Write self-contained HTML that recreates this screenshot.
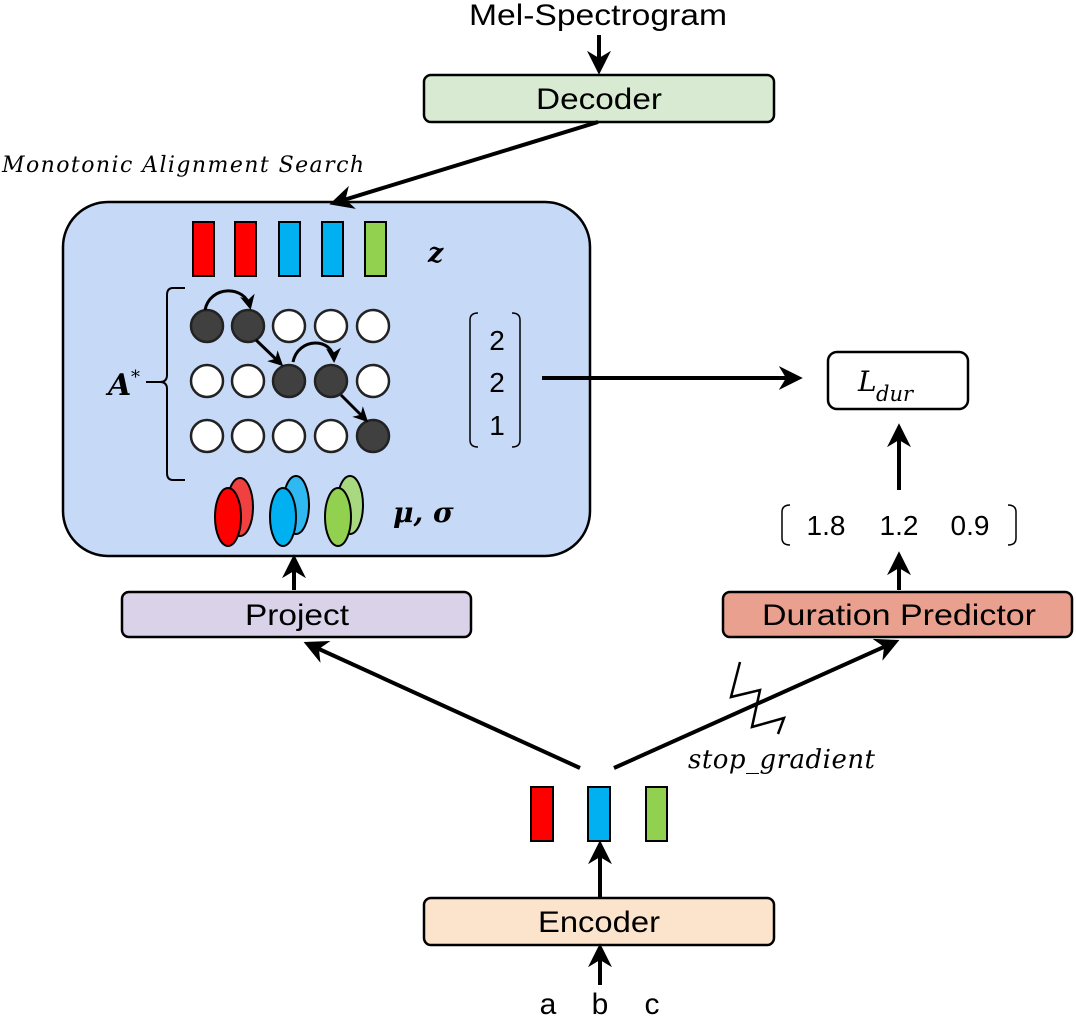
<!DOCTYPE html>
<html><head><style>
html,body{margin:0;padding:0;background:#fff;width:1076px;height:1017px;overflow:hidden}
svg{display:block}
.s{font-family:"Liberation Sans","DejaVu Sans",sans-serif}
.m{font-family:"DejaVu Serif","Liberation Serif",serif}
</style></head><body>
<svg width="1076" height="1017" viewBox="0 0 1076 1017" xmlns="http://www.w3.org/2000/svg">
<defs>
<marker id="ah" viewBox="0 0 10 10" refX="8" refY="5" markerWidth="6" markerHeight="6" orient="auto-start-reverse" markerUnits="strokeWidth">
<path d="M0,0 L10,5 L0,10 L3,5 z" fill="#000"/></marker>
<marker id="ahs" viewBox="0 0 10 10" refX="8" refY="5" markerWidth="5" markerHeight="5" orient="auto" markerUnits="strokeWidth">
<path d="M0,0 L10,5 L0,10 L3,5 z" fill="#000"/></marker>
</defs>
<g stroke="#000" stroke-width="2.5">
<rect x="63" y="202" width="527" height="354" rx="45" fill="#c6d9f7"/>
<rect x="424" y="75" width="350" height="47" rx="7" fill="#d9ead3"/>
<rect x="122" y="592" width="349" height="45" rx="7" fill="#d9d2e9"/>
<rect x="723" y="592" width="349" height="45" rx="7" fill="#e9a08e"/>
<rect x="424" y="898" width="350" height="47" rx="7" fill="#fce4cc"/>
<rect x="828" y="352" width="140" height="57" rx="9" fill="#fff"/>
</g>
<g class="s" font-size="30" text-anchor="middle" fill="#000">
<text x="598" y="25" textLength="258" lengthAdjust="spacingAndGlyphs">Mel-Spectrogram</text>
<text x="599" y="109" textLength="126" lengthAdjust="spacingAndGlyphs">Decoder</text>
<text x="297" y="625" textLength="104" lengthAdjust="spacingAndGlyphs">Project</text>
<text x="899" y="625" textLength="274" lengthAdjust="spacingAndGlyphs">Duration Predictor</text>
<text x="599" y="932" textLength="122" lengthAdjust="spacingAndGlyphs">Encoder</text>
<text x="548" y="1014">a</text><text x="600" y="1014">b</text><text x="652" y="1014">c</text>
</g>
<g stroke="#000" stroke-width="4" fill="none">
<line x1="599" y1="35" x2="599" y2="70" marker-end="url(#ah)"/>
<line x1="598" y1="122" x2="334" y2="203" marker-end="url(#ah)"/>
<line x1="542" y1="378" x2="798" y2="378" marker-end="url(#ah)"/>
<line x1="899" y1="490" x2="899" y2="428" marker-end="url(#ah)"/>
<line x1="899" y1="590" x2="899" y2="556" marker-end="url(#ah)"/>
<line x1="294" y1="590" x2="294" y2="559" marker-end="url(#ah)"/>
<line x1="580" y1="768" x2="308" y2="644" marker-end="url(#ah)"/>
<line x1="614" y1="768" x2="895" y2="642" marker-end="url(#ah)"/>
<line x1="600" y1="897" x2="600" y2="845" marker-end="url(#ah)"/>
<line x1="600" y1="985" x2="600" y2="948" marker-end="url(#ah)"/>
</g>
<path d="M740,662 L731,697 L760,690 L752,727 L784,718 L778,734" stroke="#000" stroke-width="2.5" fill="none"/>
<text x="688" y="768" class="m" font-style="italic" font-size="26" textLength="187">stop_gradient</text>
<text x="2" y="172" class="m" font-style="italic" font-size="22" textLength="362">Monotonic Alignment Search</text>
<g stroke="#000" stroke-width="2">
<rect x="193" y="222" width="21" height="54" fill="#ff0000"/>
<rect x="235" y="222" width="21" height="54" fill="#ff0000"/>
<rect x="279" y="222" width="21" height="54" fill="#00b0f0"/>
<rect x="322" y="222" width="21" height="54" fill="#00b0f0"/>
<rect x="365" y="222" width="21" height="54" fill="#92d050"/>
<rect x="531" y="787" width="22" height="54" fill="#ff0000"/>
<rect x="588" y="787" width="22" height="54" fill="#00b0f0"/>
<rect x="646" y="787" width="21" height="54" fill="#92d050"/>
</g>
<text x="428" y="262" class="m" font-style="italic" font-weight="bold" font-size="27">z</text>
<g stroke="#222" stroke-width="2.5">
<circle cx="207" cy="326" r="16" fill="#404040"/><circle cx="248" cy="326" r="16" fill="#404040"/>
<circle cx="289" cy="326" r="16" fill="#fff"/><circle cx="331" cy="326" r="16" fill="#fff"/><circle cx="373" cy="326" r="16" fill="#fff"/>
<circle cx="207" cy="381" r="16" fill="#fff"/><circle cx="248" cy="381" r="16" fill="#fff"/>
<circle cx="289" cy="381" r="16" fill="#404040"/><circle cx="331" cy="381" r="16" fill="#404040"/><circle cx="373" cy="381" r="16" fill="#fff"/>
<circle cx="207" cy="436" r="16" fill="#fff"/><circle cx="248" cy="436" r="16" fill="#fff"/><circle cx="289" cy="436" r="16" fill="#fff"/><circle cx="331" cy="436" r="16" fill="#fff"/>
<circle cx="373" cy="436" r="16" fill="#404040"/>
</g>
<g stroke="#000" stroke-width="3" fill="none">
<path d="M205,310 C210,285 245,285 250,307" marker-end="url(#ahs)"/>
<path d="M293,362 C298,337 333,337 334,360" marker-end="url(#ahs)"/>
<line x1="256" y1="340" x2="281" y2="364" marker-end="url(#ahs)"/>
<line x1="341" y1="395" x2="366" y2="420" marker-end="url(#ahs)"/>
</g>
<path d="M185,288 L173,288 Q167,288 167,295 L167,375 Q167,382 160,382 L146,382 M160,382 Q167,382 167,389 L167,473 Q167,480 173,480 L185,480" stroke="#000" stroke-width="2" fill="none"/>
<text x="108" y="395" class="m" font-style="italic" font-weight="bold" font-size="30">A</text>
<text x="131" y="383" class="m" font-size="18">*</text>
<path d="M478,313 Q470,313 470,320 L470,440 Q470,447 478,447 M512,313 Q520,313 520,320 L520,440 Q520,447 512,447" stroke="#000" stroke-width="1.5" fill="none"/>
<g class="s" font-size="28" text-anchor="middle"><text x="497" y="350">2</text><text x="497" y="392">2</text><text x="497" y="435">1</text></g>
<path d="M790,505 Q782,505 782,512 L782,538 Q782,545 790,545 M1008,505 Q1016,505 1016,512 L1016,538 Q1016,545 1008,545" stroke="#000" stroke-width="1.5" fill="none"/>
<g class="s" font-size="28" text-anchor="middle"><text x="826" y="535">1.8</text><text x="899" y="535">1.2</text><text x="970" y="535">0.9</text></g>
<text x="858" y="391" class="m" font-style="italic" font-size="28">L</text>
<text x="876" y="401" class="m" font-style="italic" font-size="21">dur</text>
<g stroke="#000" stroke-width="2">
<ellipse cx="240" cy="507" rx="13" ry="29" fill="#f04040"/>
<ellipse cx="228" cy="517" rx="13" ry="29" fill="#ff0000"/>
<ellipse cx="296" cy="505" rx="13" ry="29" fill="#30b8f0"/>
<ellipse cx="283" cy="517" rx="13" ry="29" fill="#00b0f0"/>
<ellipse cx="350" cy="505" rx="13" ry="29" fill="#a8d880"/>
<ellipse cx="338" cy="517" rx="13" ry="29" fill="#92d050"/>
</g>
<text x="393" y="522" class="m" font-style="italic" font-weight="bold" font-size="28">μ, σ</text>
</svg>
</body></html>
